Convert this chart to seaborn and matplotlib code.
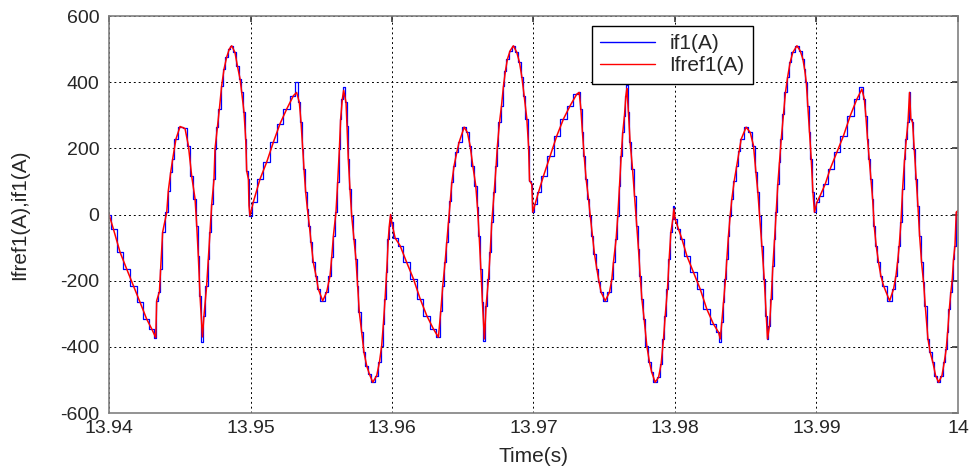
import numpy as np
import pandas as pd
import matplotlib
matplotlib.use("Agg")
import matplotlib.pyplot as plt
import seaborn as sns

# ---------------- data ----------------
# time in milliseconds after t0 = 13.94 s
t0_s = 13.94
time_ms = [
    0.00, 0.31, 0.78, 1.25, 1.72, 2.19, 2.66, 3.02, 3.30,
    3.37, 3.56, 3.65, 3.79, 4.08, 4.19, 4.36, 4.50, 4.73, 5.02, 5.37, 5.61, 5.84, 6.08, 6.20, 6.31, 6.43, 6.60,
    6.71, 6.90, 7.02, 7.14, 7.26, 7.42, 7.49, 7.66, 7.80, 7.96, 8.13, 8.31, 8.50, 8.67, 8.90, 9.07, 9.26, 9.38,
    9.54, 9.66, 9.73, 9.85, 9.89, 9.96,
    10.20, 10.67, 11.14, 11.61, 12.08, 12.56, 13.03, 13.26, 13.45, 13.57, 13.69, 13.78, 13.90, 14.02, 14.16,
    14.28, 14.44, 14.63, 14.79, 15.10, 15.38, 15.62, 15.74, 15.86, 16.04, 16.16, 16.28, 16.37, 16.49, 16.58,
    16.75, 16.82, 16.91, 17.03, 17.15, 17.31, 17.45, 17.57, 17.69, 17.86, 18.02, 18.21, 18.40, 18.64, 18.92,
    19.11, 19.27, 19.39, 19.51, 19.62, 19.74, 19.81, 19.90,
    19.98, 20.22, 20.57, 21.04, 21.52, 21.99, 22.46, 22.93, 23.28, 23.45, 23.59, 23.75, 23.87, 23.99, 24.11,
    24.23, 24.39, 24.58, 24.74, 25.10, 25.33, 25.52, 25.71, 25.92, 26.04, 26.16, 26.28, 26.39, 26.53, 26.65,
    26.82, 26.94, 27.05, 27.22, 27.36, 27.45, 27.60, 27.74, 27.88, 28.02, 28.16, 28.35, 28.58, 28.82, 29.01,
    29.18, 29.34, 29.53, 29.65, 29.72, 29.88, 29.95, 30.12, 30.35, 30.71, 31.18, 31.65, 32.12, 32.59, 33.06,
    33.23, 33.35, 33.46, 33.58, 33.72, 33.89, 34.01, 34.17, 34.31, 34.48, 34.64, 34.78, 35.07, 35.37, 35.54,
    35.65, 35.84, 35.96, 36.08, 36.20, 36.31, 36.43, 36.53, 36.60, 36.71, 36.83, 37.00, 37.14, 37.30, 37.42,
    37.54, 37.66, 37.82, 38.01, 38.20, 38.36, 38.60, 38.84, 39.02, 39.19, 39.31, 39.47, 39.59, 39.71, 39.85,
    39.92, 40.01, 40.25, 40.49, 40.84, 41.31, 41.78, 42.25, 42.72, 43.08, 43.20, 43.31, 43.43, 43.57, 43.67,
    43.78, 43.90, 44.02, 44.19, 44.37, 44.54, 44.68, 45.03, 45.32, 45.55, 45.72, 45.86, 45.98, 46.14, 46.31,
    46.45, 46.54, 46.68, 46.80, 46.92, 47.04, 47.15, 47.27, 47.39, 47.51, 47.67, 47.81, 47.96, 48.14, 48.33,
    48.62, 48.85, 49.04, 49.16, 49.28, 49.39, 49.51, 49.63, 49.75, 49.86, 50.03, 50.26, 50.62, 50.97, 51.44,
    51.91, 52.39, 52.86, 53.21, 53.38, 53.49, 53.61, 53.73, 53.85, 53.97, 54.08, 54.22, 54.39, 54.55, 54.74,
    55.17, 55.45, 55.62, 55.73, 55.85, 55.97, 56.09, 56.23, 56.35, 56.47, 56.58, 56.67, 56.79, 56.91, 57.05,
    57.17, 57.29, 57.43, 57.57, 57.69, 57.88, 58.04, 58.23, 58.42, 58.63, 58.87, 59.03, 59.17, 59.27, 59.39,
    59.50, 59.60, 59.69, 59.79, 59.88, 60.00,
]
ifref1 = [
    0, -44, -114, -165, -215, -265, -316, -346, -372,
    -260, -234, -165, -53, 7, 72, 128, 168, 228, 266, 260, 208, 117, 47, -34, -125, -245, -370,
    -306, -215, -134, -54, 32, 107, 198, 264, 319, 389, 440, 475, 500, 510, 490, 450, 410, 369,
    309, 228, 132, 107, 27, -4,
    38, 107, 158, 218, 274, 319, 359, 369, 339, 279, 198, 138, 67, 17, -34,
    -84, -145, -185, -225, -261, -235, -185, -129, -64, 7, 97, 198, 289, 349, 375,
    339, 268, 168, 77, -4, -74, -134, -215, -296, -356, -417, -457, -482, -507, -487,
    -447, -397, -331, -255, -175, -74, -34, 0,
    -24, -71, -94, -145, -195, -255, -306, -346, -371, -291, -215, -145, -84, -24, 42,
    97, 148, 188, 218, 264, 248, 208, 148, 87, 22, -64, -165, -265, -376, -276,
    -195, -114, -24, 67, 148, 208, 279, 329, 389, 435, 470, 495, 510, 490, 460,
    415, 359, 289, 208, 102, 92, 7, 32, 67, 117, 178, 238, 289, 329, 364,
    369, 319, 248, 178, 107, 47, -4, -64, -119, -165, -205, -235, -261, -235, -195,
    -145, -74, -4, 87, 178, 248, 299, 359, 381, 309, 218, 138, 57, -34, -104,
    -185, -255, -316, -397, -447, -477, -507, -492, -452, -376, -306, -225, -134, -54, -14,
    17, -14, -44, -74, -125, -175, -225, -286, -331, -356, -376, -326, -265, -195, -134,
    -64, -4, 47, 102, 148, 193, 228, 264, 248, 208, 128, 67, -4, -94, -195,
    -306, -376, -336, -255, -155, -74, 7, 92, 158, 228, 304, 369, 415, 460, 490,
    510, 495, 470, 440, 400, 329, 248, 168, 67, 7, 37, 57, 92, 138, 188,
    238, 299, 349, 379, 349, 299, 228, 168, 107, 47, -34, -94, -145, -185, -215,
    -261, -225, -185, -145, -94, -24, 77, 168, 228, 279, 369, 289, 279, 198, 107,
    27, -64, -145, -205, -276, -376, -417, -447, -487, -507, -487, -447, -407, -356, -286,
    -235, -195, -134, -94, 7, 12,
]
# measured current if1 follows the reference, with a few visible overshoots
if1_overshoot_ms = [6.60, 13.26, 16.58, 26.53, 36.60, 39.92, 43.20, 53.21]
if1_overshoot_val = [-386, 401, 385, -383, 390, 27, -385, 385]

x_ticks = [13.94, 13.95, 13.96, 13.97, 13.98, 13.99, 14.00]
x_tick_labels = ["13.94", "13.95", "13.96", "13.97", "13.98", "13.99", "14"]
y_ticks = [-600, -400, -200, 0, 200, 400, 600]
series_labels = ["if1(A)", "Ifref1(A)"]

# ---------------- build ----------------
t = t0_s + np.array(time_ms) / 1000.0
if1 = np.array(ifref1, dtype=float)
for ms, v in zip(if1_overshoot_ms, if1_overshoot_val):
    if1[time_ms.index(ms)] = v
df = pd.DataFrame({"t": t, "if1": if1, "ifref1": np.array(ifref1, dtype=float)})

sns.set_theme(style="white")
plt.rcParams["font.family"] = ["Liberation Sans", "DejaVu Sans"]
plt.rcParams["axes.unicode_minus"] = False

fig = plt.figure(figsize=(9.77, 4.71), dpi=100)
ax = fig.add_axes([0.1116, 0.1231, 0.8689, 0.8429])

sns.lineplot(data=df, x="t", y="if1", ax=ax, color="#0000FF", lw=0.9,
             drawstyle="steps-mid", label=series_labels[0], estimator=None, sort=False)
sns.lineplot(data=df, x="t", y="ifref1", ax=ax, color="#FF0000", lw=1.1,
             label=series_labels[1], estimator=None, sort=False)

ax.set_xlim(13.94, 14.0)
ax.set_ylim(-600, 600)
ax.set_xticks(x_ticks)
ax.set_xticklabels(x_tick_labels)
ax.set_yticks(y_ticks)
ax.tick_params(direction="in", length=4, labelsize=14, top=True, right=True,
               color="#404040")
ax.tick_params(axis="x", pad=5)
ax.tick_params(axis="y", pad=7)
ax.grid(True, color="black", linestyle=(0, (2, 3)), linewidth=0.7)
for s in ax.spines.values():
    s.set_color("#808080")
    s.set_linewidth(1.2)

ax.set_xlabel("Time(s)", fontsize=15, labelpad=7)
ax.set_ylabel("Ifref1(A),if1(A)", fontsize=15, labelpad=22)

leg = ax.legend(loc="upper left", bbox_to_anchor=(0.569, 0.975), fontsize=15,
                frameon=True, fancybox=False, edgecolor="black", framealpha=1,
                handlelength=2.6, handletextpad=0.7, borderpad=0.4, labelspacing=0.15,
                borderaxespad=0)
leg.get_frame().set_linewidth(1.0)
for line in leg.get_lines():
    line.set_linewidth(1.0)

fig.savefig("out.png", dpi=100, facecolor="white")
